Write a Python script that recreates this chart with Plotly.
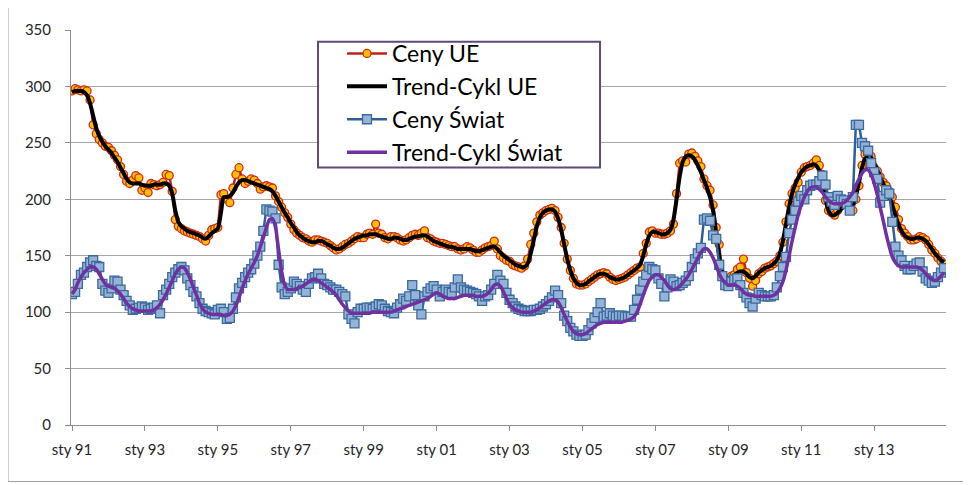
import pandas as pd
import plotly.graph_objects as go

start_month = "1991-01-01"
n_months = 288

ceny_ue = [
    296, 298, 297, 296, 297, 296, 288, 266, 258, 253, 250, 247,
    246, 243, 239, 235, 229, 222, 216, 214, 217, 221, 219, 208,
    210, 206, 214, 213, 212, 213, 215, 222, 221, 207, 182, 176,
    174, 172, 171, 170, 169, 168, 167, 165, 163, 168, 173, 174,
    175, 204, 205, 200, 197, 210, 222, 228, 218, 214, 216, 218,
    217, 214, 209, 211, 212, 211, 210, 203, 198, 193, 188, 184,
    178, 173, 170, 168, 166, 165, 163, 162, 164, 164, 163, 162,
    161, 159, 157, 155, 156, 158, 160, 161, 163, 165, 167, 166,
    166, 169, 170, 169, 178, 170, 169, 166, 165, 167, 167, 166,
    164, 163, 164, 166, 168, 169, 168, 170, 172, 166, 165, 163,
    162, 161, 161, 160, 159, 158, 158, 156, 155, 156, 158, 157,
    155, 153, 153, 155, 157, 158, 159, 163, 156, 150, 148, 146,
    145, 142, 141, 140, 139, 141, 147, 160, 170, 180, 186, 188,
    190, 191, 192, 190, 184, 175, 161, 147, 137, 130, 125, 124,
    124, 125, 127, 129, 131, 133, 134, 135, 134, 131, 129, 128,
    129, 130, 131, 133, 135, 137, 139, 140, 152, 161, 171, 172,
    170, 170, 169, 169, 170, 172, 178, 205, 232, 234, 233, 240,
    241, 238, 234, 229, 218, 212, 208, 195, 175, 160, 133, 129,
    130, 132, 133, 138, 140, 147, 135, 130, 123, 128, 134, 136,
    139, 140, 141, 143, 145, 150, 162, 180, 196, 205, 210, 215,
    224, 228, 229, 230, 232, 235, 230, 222, 199, 190, 188, 186,
    190, 195, 196, 196, 193, 190, 200, 212, 230, 240, 242, 238,
    228, 225, 220, 215, 212, 207, 202, 193, 182, 174, 170, 167,
    164, 164, 165, 167, 166, 164, 160, 155, 152, 148, 145, 143,
]

trend_ue = [
    295, 296, 296, 296, 295, 292, 285, 274, 263, 256, 251, 247,
    244, 241, 237, 233, 228, 223, 218, 215, 214, 214, 214, 213,
    212, 212, 212, 213, 213, 213, 214, 214, 212, 205, 190, 180,
    176, 174, 172, 171, 170, 169, 168, 166, 165, 167, 170, 172,
    174, 188, 202, 202, 203, 206, 211, 215, 217, 217, 216, 215,
    214, 213, 212, 211, 210, 209, 207, 203, 198, 193, 188, 184,
    179, 175, 171, 168, 166, 164, 163, 162, 162, 163, 163, 162,
    160, 159, 157, 156, 156, 157, 159, 161, 163, 165, 166, 167,
    168, 168, 169, 169, 169, 168, 167, 166, 165, 165, 166, 166,
    165, 164, 164, 165, 166, 167, 167, 168, 168, 167, 165, 163,
    162, 161, 160, 159, 158, 158, 157, 156, 156, 156, 156, 156,
    155, 154, 154, 155, 156, 157, 158, 158, 156, 153, 150, 148,
    146, 144, 142, 141, 140, 140, 143, 152, 164, 176, 184, 188,
    190, 191, 191, 189, 183, 173, 160, 147, 137, 130, 126, 124,
    124, 125, 127, 129, 131, 133, 134, 134, 133, 131, 130, 129,
    129, 130, 131, 133, 135, 137, 139, 142, 150, 160, 168, 171,
    171, 170, 169, 169, 170, 173, 182, 200, 220, 233, 238, 239,
    238, 235, 230, 224, 217, 210, 202, 190, 170, 150, 136, 131,
    130, 131, 133, 135, 136, 136, 134, 131, 130, 132, 135, 137,
    139, 140, 141, 143, 146, 152, 163, 178, 193, 205, 213, 219,
    224, 227, 229, 230, 231, 230, 225, 213, 200, 190, 186, 186,
    188, 191, 193, 193, 193, 195, 203, 215, 228, 236, 238, 237,
    232, 226, 220, 214, 208, 202, 195, 186, 178, 172, 168, 166,
    165, 165, 166, 166, 165, 163, 160, 156, 152, 149, 146, 144,
]

ceny_swiat = [
    116, 118, 125, 133, 135, 140, 144, 146, 141, 140, 125, 119,
    117, 121, 128, 127, 120, 115, 110, 106, 102, 103, 104, 105,
    104, 102, 103, 104, 106, 99, 115, 120, 125, 131, 135, 138,
    140, 137, 130, 124, 118, 114, 108, 103, 101, 100, 99, 98,
    102, 103, 100, 94, 95, 103, 113, 121, 126, 131, 135, 138,
    143, 150, 158, 172, 191, 190, 189, 183, 142, 122, 116, 118,
    121, 127, 125, 123, 120, 118, 125, 130, 131, 134, 130, 125,
    124, 122, 120, 120, 118, 116, 114, 98, 94, 90, 100, 103,
    103, 104, 104, 103, 105, 107, 106, 103, 101, 100, 99, 104,
    107, 112, 110, 114, 124, 115, 106, 98, 114, 118, 121, 123,
    120, 114, 118, 120, 118, 117, 122, 129, 122, 120, 119, 118,
    117, 116, 114, 110, 114, 115, 120, 125, 133, 128, 125, 117,
    111, 108, 105, 103, 102, 101, 101, 101, 102, 102, 103, 105,
    107, 110, 113, 119, 115, 108, 97, 92, 86, 83, 80, 79,
    79, 80, 84, 90, 95, 100, 108, 96, 97, 99, 97, 96,
    97, 97, 96, 96, 96, 102, 111, 120, 127, 133, 140, 138,
    137, 130, 125, 114, 122, 129, 127, 123, 124, 126, 128, 132,
    140, 147, 152, 157, 182, 183, 181, 168, 165, 142, 132, 124,
    123, 127, 129, 130, 124, 117, 113, 108, 105, 112, 117, 115,
    114, 114, 114, 115, 122, 132, 140, 149, 170, 182, 190, 198,
    203, 200, 208, 212, 213, 213, 216, 221, 213, 202, 198, 195,
    203, 200, 199, 196, 190, 202, 266, 266, 250, 247, 243, 232,
    224, 218, 197, 203, 208, 205, 180, 158, 150, 146, 141, 138,
    138, 141, 143, 144, 136, 130, 128, 126, 127, 131, 135, 139,
]

trend_swiat = [
    116, 120, 126, 131, 135, 138, 140, 140, 138, 134, 129, 125,
    123, 122, 121, 119, 116, 112, 108, 105, 103, 102, 101, 101,
    101, 101, 101, 102, 104, 107, 111, 116, 122, 128, 134, 138,
    140, 139, 135, 129, 122, 115, 108, 103, 100, 99, 98, 98,
    98, 98, 97, 97, 98, 101, 106, 113, 121, 128, 134, 139,
    144, 150, 158, 166, 175, 182, 183, 175, 155, 136, 124, 120,
    120, 120, 121, 122, 123, 125, 127, 129, 129, 128, 126, 124,
    122, 120, 118, 115, 111, 107, 104, 101, 99, 99, 99, 99,
    99, 99, 99, 100, 100, 100, 100, 100, 100, 100, 101, 102,
    103, 104, 105, 106, 107, 108, 109, 110, 111, 112, 114, 116,
    117, 116, 114, 113, 112, 112, 112, 113, 114, 115, 115, 115,
    115, 114, 114, 114, 115, 117, 120, 124, 125, 123, 118, 112,
    107, 104, 102, 101, 100, 100, 100, 100, 101, 102, 104, 106,
    108, 110, 111, 111, 109, 104, 98, 92, 87, 83, 81, 80,
    80, 81, 83, 85, 87, 89, 90, 91, 91, 91, 91, 91,
    91, 91, 92, 93, 94, 96, 100, 107, 115, 122, 128, 131,
    133, 133, 131, 128, 124, 121, 120, 121, 123, 126, 129, 133,
    138, 143, 148, 153, 156, 156, 153, 148, 141, 134, 129, 126,
    124, 124, 124, 123, 121, 118, 116, 115, 115, 114, 114, 114,
    114, 114, 114, 115, 117, 121, 127, 137, 150, 163, 175, 186,
    195, 202, 207, 210, 211, 211, 209, 206, 202, 199, 197, 196,
    196, 196, 197, 199, 202, 206, 212, 218, 223, 226, 226, 222,
    214, 204, 193, 181, 169, 158, 149, 144, 141, 140, 140, 140,
    140, 140, 140, 139, 137, 134, 131, 129, 128, 129, 132, 135,
]

tick_dates = ["1991-01-01", "1993-01-01", "1995-01-01", "1997-01-01",
              "1999-01-01", "2001-01-01", "2003-01-01", "2005-01-01",
              "2007-01-01", "2009-01-01", "2011-01-01", "2013-01-01"]
tick_labels = ["sty 91", "sty 93", "sty 95", "sty 97", "sty 99", "sty 01",
               "sty 03", "sty 05", "sty 07", "sty 09", "sty 11", "sty 13"]
y_ticks = [0, 50, 100, 150, 200, 250, 300, 350]

dates = pd.date_range(start_month, periods=n_months, freq="MS")

fig = go.Figure()
fig.add_trace(go.Scatter(
    x=dates, y=ceny_ue, name="Ceny UE", mode="lines+markers",
    line=dict(color="#C0201E", width=2.5),
    marker=dict(symbol="circle", size=8, color="#FFC000",
                line=dict(color="#D02A1E", width=1.3)),
    legendgroup="a"))
fig.add_trace(go.Scatter(
    x=dates, y=trend_ue, name="Trend-Cykl UE", mode="lines",
    line=dict(color="#000000", width=4, shape="spline", smoothing=0.6),
    legendgroup="b"))
fig.add_trace(go.Scatter(
    x=dates, y=ceny_swiat, name="Ceny Świat", mode="lines+markers",
    line=dict(color="#2F5F96", width=2.5),
    marker=dict(symbol="square", size=9, color="#95B3D7",
                line=dict(color="#3A6A9E", width=1.3)),
    legendgroup="c"))
fig.add_trace(go.Scatter(
    x=dates, y=trend_swiat, name="Trend-Cykl Świat", mode="lines",
    line=dict(color="#7030A0", width=3.5, shape="spline", smoothing=0.6),
    legendgroup="d"))

font_family = "Lato, 'Open Sans', sans-serif"

fig.update_layout(
    width=971, height=485,
    margin=dict(l=63, r=33, t=18, b=68),
    paper_bgcolor="white", plot_bgcolor="white",
    font=dict(family=font_family, size=15, color="#262626"),
    showlegend=True,
    legend=dict(
        x=0.3097, y=0.995, xanchor="left", yanchor="top",
        bgcolor="rgba(0,0,0,0)", borderwidth=0,
        font=dict(size=23, color="#000000", family=font_family),
        itemwidth=40, tracegroupgap=0,
    ),
    xaxis=dict(
        range=["1990-12-22", "2014-12-21"],
        tickvals=tick_dates, ticktext=tick_labels,
        showgrid=False, showline=True, linecolor="#8C8C8C", linewidth=1,
        ticks="outside", ticklen=5, tickcolor="#8C8C8C",
        tickfont=dict(size=15, color="#262626"),
        zeroline=False, ticklabelstandoff=6,
    ),
    yaxis=dict(
        range=[0, 350], tickvals=y_ticks,
        showgrid=True, gridcolor="#A6A6A6", gridwidth=1,
        showline=True, linecolor="#8C8C8C", linewidth=1,
        ticks="outside", ticklen=5, tickcolor="#8C8C8C",
        tickfont=dict(size=15, color="#262626"),
        zeroline=False, ticklabelstandoff=11,
    ),
)
# legend frame
fig.add_shape(type="rect", xref="paper", yref="paper",
              x0=0.2823, x1=0.6046, y0=0.6516, y1=0.970, layer="above",
              line=dict(color="#604A7B", width=2), fillcolor="white")
# chart-area frame
fig.add_shape(type="rect", xref="paper", yref="paper",
              x0=-0.072, x1=1.026, y0=-0.143, y1=1.2,
              line=dict(color="#A0A0A0", width=1), fillcolor="rgba(0,0,0,0)")

fig.write_html("out.html")
